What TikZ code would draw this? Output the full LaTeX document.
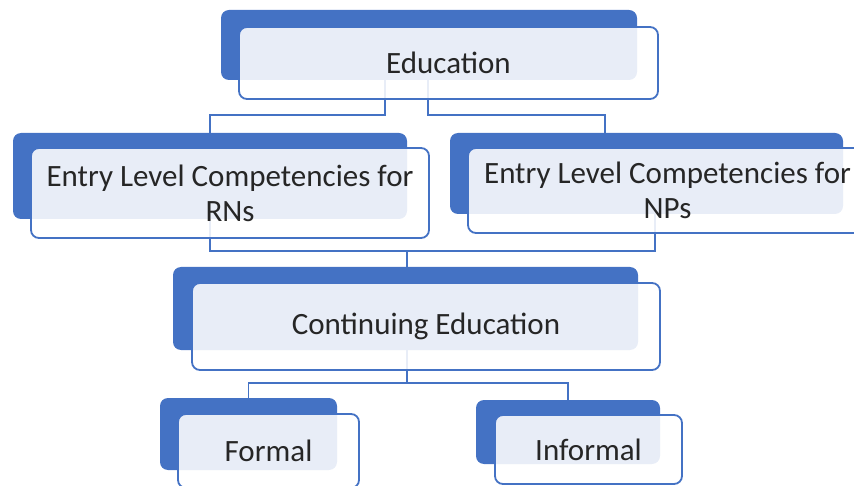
\documentclass[tikz,border=0pt]{standalone}
\usepackage{fontspec}
\setmainfont{Carlito}
\definecolor{accent}{HTML}{4472C4}
\tikzset{
	backbox/.style={fill=accent, rounded corners=8pt, inner sep=0pt},
	frontbox/.style={draw=accent, line width=1.8pt, fill=white, fill opacity=0.88, text opacity=1,
		rounded corners=8pt, inner sep=0pt, align=center, text=black!85,
		font=\fontsize{31}{35}\selectfont},
	link/.style={draw=accent, line width=1.9pt}
}
\begin{document}
\begin{tikzpicture}[x=1pt, y=-1pt]
	\clip (0,0) rectangle (854,486);

	% blue cards behind
	\node[backbox, minimum width=416, minimum height=70] (eduB) at (429,45) {};
	\node[backbox, minimum width=394, minimum height=86] (rnB) at (210,176) {};
	\node[backbox, minimum width=393, minimum height=81] (npB) at (646.5,173.5) {};
	\node[backbox, minimum width=465, minimum height=83] (ceB) at (405.5,308.5) {};
	\node[backbox, minimum width=177, minimum height=72] (foB) at (248.5,434) {};
	\node[backbox, minimum width=184, minimum height=64] (inB) at (568,432) {};

	% elbow joints
	\coordinate (j1) at (385,115);
	\coordinate (j2) at (428,115);
	\coordinate (j3) at (605,115);
	\coordinate (j4) at (655,251);
	\coordinate (j5) at (407,251);
	\coordinate (j6) at (407,383);

	\draw[link] (eduB.south -| j1) -- (j1) -| (rnB.north);
	\draw[link] (eduB.south -| j2) -- (j2) -| (j3 |- npB.north);
	\draw[link] (rnB.south) |- (j5) -- (j5 |- ceB.north);
	\draw[link] (npB.south -| j4) -- (j4) -- (j5);
	\draw[link] (ceB.south -| j6) -- (j6) -| (foB.north);
	\draw[link] (j6) -| (inB.north);

	% white cards in front
	\node[frontbox, minimum width=419, minimum height=72] (edu) at (448.5,63) {Education};
	\node[frontbox, minimum width=398, minimum height=90] (rn) at (230,193) {Entry Level Competencies for\\RNs};
	\node[frontbox, minimum width=399, minimum height=85] (np) at (667.5,190.5) {Entry Level Competencies for\\NPs};
	\node[frontbox, minimum width=468, minimum height=87] (ce) at (426,326.5) {Continuing Education};
	\node[frontbox, minimum width=181, minimum height=74] (fo) at (268.5,451) {Formal};
	\node[frontbox, minimum width=187, minimum height=69] (in) at (588.5,449.5) {Informal};
\end{tikzpicture}
\end{document}
